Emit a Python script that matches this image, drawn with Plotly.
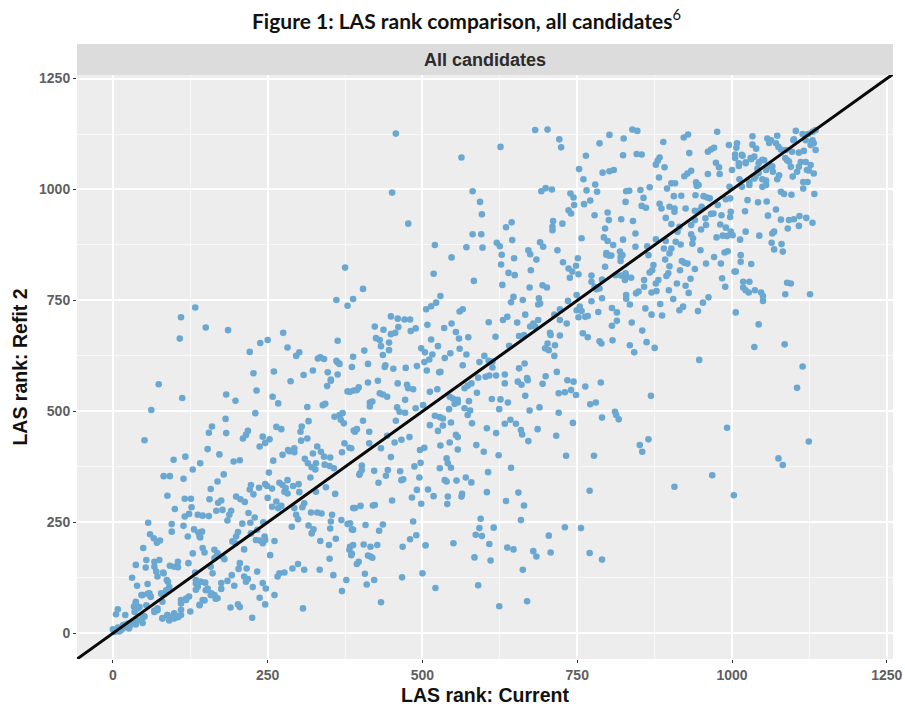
import plotly.graph_objects as go

rank_current = [
74,112,62,183,198,232,258,267,287,314,339,343,
346,352,379,389,182,230,160,155,183,218,215,210,
51,242,253,246,237,264,272,316,305,303,304,314,
358,366,371,368,373,389,374,382,370,153,172,98,
117,141,129,195,205,259,274,283,293,293,285,330,
336,341,351,323,310,315,321,327,328,342,350,357,
252,82,92,114,179,169,158,223,221,227,236,246,
249,257,269,274,279,282,291,300,282,277,319,344,
328,359,88,116,126,156,199,206,213,170,175,250,
264,257,267,272,301,309,306,100,127,123,116,137,
145,155,167,177,191,188,185,219,229,293,296,299,
320,330,337,354,352,369,388,379,386,57,95,114,
209,222,243,289,316,324,321,351,95,60,66,71,
76,121,131,138,144,140,141,202,199,193,198,233,
223,245,231,237,242,246,261,335,349,360,388,382,
385,49,129,145,148,212,164,169,167,177,164,180,
254,350,54,67,75,37,53,67,70,72,92,99,
105,105,122,158,205,203,216,161,192,185,175,196,
212,215,218,233,269,266,277,290,299,309,334,356,
377,370,81,133,31,39,56,87,83,91,134,142,
149,134,137,153,159,169,164,175,226,242,247,261,
237,246,123,118,110,145,140,190,202,205,307,225,
125,48,59,61,37,34,43,78,80,72,67,110,
99,88,80,94,105,110,8,5,20,51,48,37,
0,8,16,24,32,10,2,18,26,
412,428,460,475,477,485,512,524,394,397,383,431,
436,443,472,415,419,415,459,463,472,489,501,544,
549,557,552,557,568,573,579,588,575,568,577,573,
543,404,457,520,528,533,512,533,525,546,580,394,
391,414,414,455,466,479,443,385,433,449,503,496,
529,544,554,557,557,604,619,587,599,623,539,541,
546,497,487,528,402,402,399,398,422,444,441,464,
429,466,469,495,536,539,555,570,579,491,509,483,
518,541,564,563,451,498,540,391,400,420,423,604,
606,643,635,655,664,594,592,615,586,596,608,637,
647,679,684,707,659,704,730,756,770,790,770,584,
610,662,590,624,669,550,485,505,480,490,468,383,
388,408,436,430,405,416,427,383,386,412,419,416,
397,394,407,422,410,433,467,500,521,633,654,660,
670,694,734,744,763,788,720,730,740,748,666,612,
626,638,624,673,689,720,771,780,790,811,813,817,
743,633,642,651,659,661,671,686,716,732,777,
869,865,851,855,907,968,992,1003,1075,1082,1124,1105,
375,361,388,379,133,110,150,186,108,275,250,238,
363,221,282,301,296,331,335,341,361,363,366,388,
386,227,260,308,323,347,363,352,
457,451,477,563,626,682,702,721,724,786,802,825,
764,824,753,760,791,802,809,779,765,782,692,699,
709,581,593,596,739,744,745,761,771,736,740,778,
799,801,821,829,828,711,710,710,726,644,635,581,
595,757,795,793,799,808,824,520,571,597,620,625,
645,690,695,718,671,674,547,628,648,684,797,801,
797,805,819,820,820,751,727,748,736,742,738,752,
795,627,675,639,649,518,583,629,673,694,701,773,
773,778,781,786,790,812,821,827,828,829,829,529,
522,514,506,565,560,647,643,662,688,687,690,735,
749,790,773,806,814,814,806,784,754,749,757,752,
763,767,722,713,722,733,666,687,679,674,682,637,
630,653,607,404,449,460,471,480,508,547,535,554,
423,437,461,449,456,481,489,425,431,446,514,559,
574,618,656,664,706,707,722,759,767,786,789,807,
433,446,436,406,498,504,525,560,702,714,698,704,
640,713,412,440,439,453,473,491,516,511,503,536,
545,571,592,600,607,613,613,565,665,656,717,527,
529,507,633,699,590,602,608,619,669,
839,847,846,854,889,922,929,976,995,1033,1008,1007,
1005,1005,1017,1033,1039,1057,1063,1060,1073,1071,1075,1079,
1103,1114,1123,1130,1135,1099,1119,1130,1132,1127,1135,961,
966,971,931,883,880,877,891,974,979,980,1000,1011,
1022,1031,1036,1044,1052,1041,1055,1066,1063,1087,1097,1108,
1116,1089,1095,1111,1119,1127,1108,1105,1124,1132,1098,1076,
1073,882,934,928,923,961,1012,1028,1036,1016,1028,1049,
1055,1049,1055,1115,1122,1115,1133,1079,1084,1096,902,908,
895,942,946,943,996,834,852,867,906,918,941,954,
960,964,990,997,1025,1042,1056,857,883,886,899,907,
907,854,861,925,940,951,948,977,966,970,998,997,
1021,983,1071,1058,1079,1092,1100,1109,1120,1130,1108,1090,
840,893,902,940,934,957,958,950,915,912,981,990,
998,1001,1022,1068,1065,1044,844,934,937,975,985,992,
1013,877,893,909,917,936,1064,1080,1068,1082,844,863,
890,902,899,949,988,993,1014,1014,1031,971,823,865,
892,919,923,928,873,871,867,899,897,894,940,916,
958,982,1004,1006,830,837,858,881,877,933,984,989,
1018,1028,1018,1022,1027,1037,1047,1050,1050,1089,1095,1086,
1126,911,925,930,898,858,870,878,849,845,905,835,
884,860,870,887,921,915,953,962,945,1006,1043,838,
855,862,875,835,842,947,1036,1085,1114,
]

rank_refit2 = [
561,530,503,538,524,547,533,518,568,510,514,517,
557,569,545,547,483,496,466,452,451,456,447,439,
435,443,437,429,421,465,460,478,466,454,434,439,
488,492,496,481,473,457,428,418,408,415,403,391,
398,383,369,387,390,389,402,413,417,408,410,421,
409,398,396,405,393,383,374,369,383,380,377,372,
362,354,354,348,358,342,325,334,324,313,328,336,
332,326,339,334,327,315,332,336,345,319,351,329,
319,314,310,303,303,302,308,302,296,294,299,305,
297,285,282,287,318,293,284,280,284,269,263,267,
265,264,276,278,276,267,254,271,261,282,267,257,
272,272,270,267,252,255,282,246,234,249,246,242,
247,249,250,240,243,234,225,236,229,223,214,204,
209,218,234,227,229,218,216,228,218,207,203,233,
225,218,210,209,203,210,208,208,199,213,199,188,
176,192,180,192,182,189,188,180,173,173,169,167,
176,168,165,161,165,154,148,150,139,128,152,150,
161,149,158,150,158,145,146,135,131,118,113,107,
128,116,122,139,135,128,137,146,156,143,143,131,
120,95,137,137,125,107,111,120,90,104,120,116,
114,98,105,101,90,79,86,100,104,113,101,86,
80,65,83,75,75,75,64,58,65,59,56,35,
49,86,90,83,71,60,59,90,71,56,51,53,
45,41,34,34,36,41,54,43,41,38,23,26,
9,8,11,15,23,4,4,19,11,
565,569,563,560,552,550,544,550,548,554,544,541,
538,533,526,520,522,511,509,499,497,507,514,533,
529,526,517,520,552,558,563,542,523,507,502,492,
505,479,479,490,487,484,469,468,456,475,473,460,
454,454,428,430,436,442,445,417,417,397,418,413,
423,430,447,442,414,462,451,424,409,401,394,383,
373,384,376,372,378,368,360,357,366,368,355,365,
339,345,347,351,345,342,344,351,340,323,324,306,
309,308,314,308,299,292,291,282,287,288,289,318,
363,373,298,317,288,258,237,238,222,219,201,193,
189,185,173,182,255,220,239,237,181,166,321,171,
164,143,108,61,72,203,252,198,212,221,195,248,
233,244,245,231,200,195,199,195,179,175,170,173,
161,156,134,120,110,70,126,135,102,563,567,560,
570,562,570,567,556,565,541,543,548,537,535,528,
527,520,505,502,509,497,516,520,486,499,492,482,
474,472,481,472,458,448,433,460,445,400,400,
535,437,424,409,330,356,463,311,394,379,432,553,
824,751,753,738,734,712,689,683,664,677,661,654,
659,634,644,633,625,619,622,618,614,610,607,623,
600,586,590,582,592,588,583,572,
1126,993,923,1072,1096,1134,1135,1113,1095,1104,1123,1115,
1076,1077,1046,1023,1038,1041,1044,1011,998,995,996,1003,
1000,996,972,944,991,982,965,967,975,953,946,942,
948,931,933,996,972,929,916,908,923,926,915,899,
899,890,912,892,884,875,887,875,870,869,880,872,
886,881,871,863,863,854,847,853,845,842,857,851,
853,851,860,848,839,845,836,828,822,815,801,809,
826,831,818,812,807,810,794,785,779,784,779,806,
792,781,775,777,797,807,806,796,811,762,754,760,
745,737,730,730,725,758,746,751,755,741,743,749,
762,755,748,733,723,704,693,724,736,728,726,712,
713,715,730,718,706,698,718,706,698,691,691,713,
706,700,701,776,714,709,707,707,695,698,688,679,
691,684,690,674,677,681,687,665,661,655,662,664,
667,668,670,672,677,672,671,676,667,658,653,660,
647,638,627,637,642,633,647,641,653,649,642,638,
648,625,607,604,600,596,598,602,628,617,611,620,
631,628,611,625,614,612,599,604,608,597,589,588,
589,592,583,579,576,578,581,581,575,
1135,1132,1080,1079,1107,1117,1124,1130,1100,1120,1104,1094,
1079,1071,1076,1101,1092,1115,1111,1105,1121,1104,1096,1090,
1132,1125,1125,1130,1134,1111,1111,1111,1104,1100,1089,1085,
1090,1094,1082,1072,1065,1056,1050,1060,1050,1035,1044,1053,
1061,1068,1074,1062,1066,1047,1044,1040,1051,1089,1085,1083,
1087,1066,1051,1062,1062,1055,1051,1040,1043,1036,1029,1032,
1023,1027,1042,1036,1030,1035,1023,1017,1025,1006,1010,1023,
1020,1006,1010,1017,1017,1002,990,995,990,988,1014,1014,
1002,1016,1010,1008,1006,997,999,1005,985,986,987,985,
982,980,978,980,976,971,973,981,968,957,961,957,
950,963,959,957,952,961,953,965,945,946,950,938,
951,942,955,941,932,931,933,940,936,925,918,912,
929,936,922,931,920,935,920,910,916,905,921,914,
905,897,905,905,901,896,901,899,890,892,896,895,
887,888,884,882,876,878,880,877,865,860,871,872,
867,867,856,863,858,861,852,837,832,848,852,852,
842,839,835,833,830,818,813,827,811,805,821,818,
833,833,815,815,803,801,796,796,788,799,800,781,
792,792,779,773,768,773,768,760,749,790,788,764,
764,788,783,767,773,781,768,771,770,766,753,741,
742,732,718,716,736,728,745,757,726,723,696,700,
682,656,643,649,633,616,645,651,601,
]

origin_current = [8,16,24,32,40,48,2,13,27,37,37,40,35,46,56,61,54,
                  80,91,99,106,88,67,72,78,86,89,82,134,142,150,158,166,140,148,118,110]
origin_refit2 = [13,18,22,26,29,35,3,7,16,20,67,56,48,86,89,82,63,
                 33,29,33,38,41,48,52,89,97,116,135,112,116,97,86,78,63,74,78,67]
top_current = [1030,1022,1043,1049,1057,1016,1011,1065,1038,1043,1086,1092,1121,1100,1129]
top_refit2 = [1071,1059,1059,1067,1052,1078,1059,1052,1029,1037,1071,1063,1044,1113,1108]

axis_ticks = [0, 250, 500, 750, 1000, 1250]
minor_ticks = [125, 375, 625, 875, 1125]
identity_x = [-58, 1262]
identity_y = [-58, 1262]

assert len(rank_current) == len(rank_refit2), (len(rank_current), len(rank_refit2))
assert len(origin_current) == len(origin_refit2)
assert len(top_current) == len(top_refit2)

FONT = "Liberation Sans, Arial, sans-serif"

fig = go.Figure()
fig.add_trace(go.Scatter(
    x=rank_current + origin_current + top_current,
    y=rank_refit2 + origin_refit2 + top_refit2, mode="markers",
    marker=dict(color="#6AA8D2", size=6.6, line=dict(width=0)),
    hoverinfo="skip", showlegend=False))
fig.add_trace(go.Scatter(
    x=identity_x, y=identity_y, mode="lines",
    line=dict(color="#0A0A0A", width=3),
    hoverinfo="skip", showlegend=False))

def axis(title, rng, standoff):
    return dict(
        range=rng, tickmode="array", tickvals=axis_ticks, automargin=False,
        ticks="outside", ticklen=3, tickwidth=1, tickcolor="#333333",
        tickfont=dict(family=FONT, size=14, color="#5F5F5F", weight=700),
        showgrid=True, gridcolor="#FFFFFF", gridwidth=2,
        zeroline=False, showline=False,
        minor=dict(tickmode="array", tickvals=minor_ticks, showgrid=True,
                   gridcolor="#F8F8F8", gridwidth=1, ticks=""),
        title=dict(text="<b>%s</b>" % title, standoff=standoff,
                   font=dict(family=FONT, size=19.5, color="#111111")),
    )

fig.update_layout(
    width=905, height=706, autosize=False,
    margin=dict(l=77, r=12, t=75, b=47, pad=0),
    paper_bgcolor="#FFFFFF", plot_bgcolor="#EDEDED",
    xaxis=axis("LAS rank: Current", [-58, 1260], 8),
    yaxis=axis("LAS rank: Refit 2", [-58, 1258], 6),
    shapes=[dict(type="rect", xref="paper", yref="paper", x0=0, x1=1,
                 y0=1, y1=1 + 31 / 584, fillcolor="#DCDCDC", line=dict(width=0))],
    annotations=[
        dict(text="<b>All candidates</b>", xref="paper", yref="paper", x=0.5,
             y=1 + 15.5 / 584, xanchor="center", yanchor="middle", showarrow=False,
             font=dict(family=FONT, size=18, color="#2B2B2B")),
        dict(text="<b>Figure 1: LAS rank comparison, all candidates</b><span style='font-style:normal'><sup>6</sup></span>",
             xref="paper", yref="paper", x=(466 - 77) / 816, y=1 + 56 / 584,
             xanchor="center", yanchor="middle", showarrow=False,
             font=dict(family="Lato, Open Sans, sans-serif", size=21, color="#111111")),
    ],
)

fig.write_html("out.html", config=dict(displayModeBar=False),
               post_script="document.body.style.margin='0';document.documentElement.style.overflow='hidden';")
